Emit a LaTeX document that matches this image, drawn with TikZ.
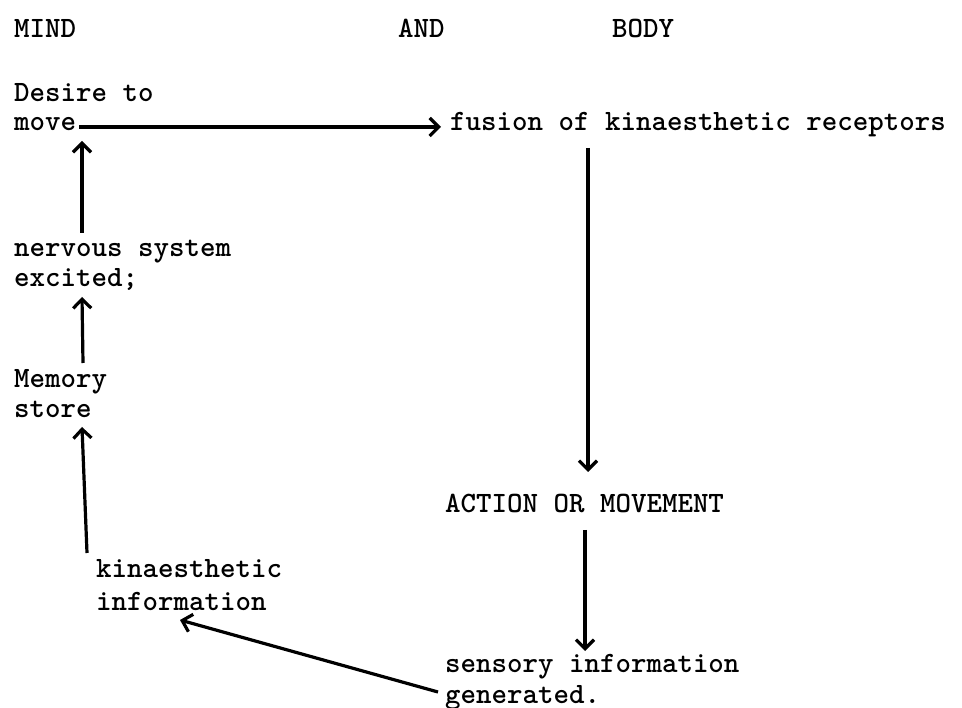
\documentclass[tikz,border=0pt]{standalone}
\usepackage{fontspec}
\usetikzlibrary{arrows.meta,calc}
\tikzset{
  txt/.style={anchor=base west, inner sep=0pt, font=\ttfamily\bfseries\fontsize{29.5}{32}\selectfont},
  arr/.style={line width=3.2pt, -{Straight Barb[length=9pt,width=18pt]}}
}
\begin{document}
\begin{tikzpicture}[x=1pt,y=-1pt]
\fill[white] (0,0) rectangle (962,708);
\useasboundingbox (0,0) rectangle (962,708);
\node[txt] (mind) at (14,38) {MIND};
\node[txt] (and) at (398,38) {AND};
\node[txt] (body) at (612,38) {BODY};
\node[txt] (desireA) at (14,102) {Desire to};
\node[txt] (desireB) at (14,131) {move};
\node[txt] (fusion) at (450,131) {fusion of kinaesthetic receptors};
\node[txt] (nervous) at (14,257) {nervous system};
\node[txt] (excited) at (14,287) {excited;};
\node[txt] (memory) at (14,388) {Memory};
\node[txt] (store) at (14,418) {store};
\node[txt] (action) at (445,513) {ACTION OR MOVEMENT};
\node[txt] (kin) at (96,578) {kinaesthetic};
\node[txt] (info) at (96,610) {information};
\node[txt] (sensory) at (445,672) {sensory information};
\node[txt] (generated) at (445,703) {generated.};
\draw[arr] ($(desireB.base east)+(3,-4)$) -- ($(fusion.base west)+(-9,-4)$);
\draw[arr] ($(fusion.base west)+(138,17)$) -- ($(action.base west)+(143,-41)$);
\draw[arr] ($(action.base west)+(140,17)$) -- ($(sensory.base west)+(140,-21)$);
\draw[arr] ($(generated.base west)+(-7,-11)$) -- ($(info.base west)+(84,10)$);
\draw[arr] ($(kin.base west)+(-9,-25)$) -- ($(store.base west)+(68,9)$);
\draw[arr] ($(memory.base west)+(69,-25)$) -- ($(excited.base west)+(68,10)$);
\draw[arr] ($(nervous.base west)+(68,-24)$) -- ($(desireB.base west)+(68,10)$);
\end{tikzpicture}
\end{document}
